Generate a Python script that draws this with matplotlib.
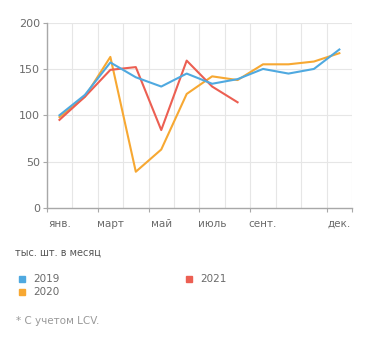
import numpy as np
import matplotlib.pyplot as plt
from matplotlib.patches import Rectangle

months = ["янв.", "фев.", "март", "апр.", "май", "июнь", "июль", "авг.", "сент.", "окт.", "нояб.", "дек."]
shown_labels = {0: "янв.", 2: "март", 4: "май", 6: "июль", 8: "сент.", 11: "дек."}

sales_2019 = [100, 122, 157, 141, 131, 145, 134, 139, 150, 145, 150, 171]
sales_2020 = [98, 120, 163, 39, 63, 123, 142, 138, 155, 155, 158, 167]
sales_2021 = [95, 120, 149, 152, 84, 159, 131, 114]

c2019 = "#4fa9e0"
c2020 = "#f7a832"
c2021 = "#ec5f52"
grid_c = "#e6e6e6"
axis_c = "#a8a8a8"
text_c = "#6a6a6a"

fig = plt.figure(figsize=(3.71, 3.43), dpi=100)
ax = fig.add_axes([0.126, 0.394, 0.823, 0.54])

x = np.arange(len(months)) + 0.5
ax.plot(x[:len(sales_2020)], sales_2020, color=c2020, lw=1.5, zorder=3)
ax.plot(x[:len(sales_2021)], sales_2021, color=c2021, lw=1.5, zorder=4)
ax.plot(x[:len(sales_2019)], sales_2019, color=c2019, lw=1.5, zorder=5)

ax.set_xlim(0, 12)
ax.set_ylim(0, 200)
ax.set_yticks([0, 50, 100, 150, 200])

# vertical grid at month boundaries, horizontal at y ticks
for b in range(13):
    ax.axvline(b, color=grid_c, lw=0.8, zorder=0)
for yv in [50, 100, 150, 200]:
    ax.axhline(yv, color=grid_c, lw=0.8, zorder=0)

ax.set_xticks([0, 2, 4, 6, 8, 11, 12])
ax.set_xticklabels([])
ax.set_xticks([x[i] for i in shown_labels], minor=True)
ax.set_xticklabels(list(shown_labels.values()), minor=True)
ax.tick_params(axis="x", which="minor", length=0, pad=8, labelsize=7.5, labelcolor=text_c)
ax.tick_params(axis="x", which="major", length=3, color=axis_c, direction="out")
ax.tick_params(axis="y", length=3, color=axis_c, labelsize=8, labelcolor=text_c, pad=2)

for s in ["top", "right"]:
    ax.spines[s].set_visible(False)
for s in ["left", "bottom"]:
    ax.spines[s].set_color(axis_c)
    ax.spines[s].set_linewidth(1.0)

fig.text(15 / 371, 1 - 253 / 343, "тыс. шт. в месяц", fontsize=7, color="#555555", va="center")

legend_items = [("2019", c2019, 19, 279), ("2020", c2020, 19, 292), ("2021", c2021, 186, 279)]
for label, col, px, py in legend_items:
    fig.patches.append(Rectangle((px / 371, 1 - (py + 3) / 343), 6 / 371, 6 / 343,
                                 transform=fig.transFigure, color=col, figure=fig))
    fig.text((px + 14) / 371, 1 - py / 343, label, fontsize=7.5, color=text_c, va="center")

fig.text(16 / 371, 1 - 321 / 343, "* С учетом LCV.", fontsize=7.5, color="#9a9a9a", va="center")

fig.savefig("out.png", dpi=100)
